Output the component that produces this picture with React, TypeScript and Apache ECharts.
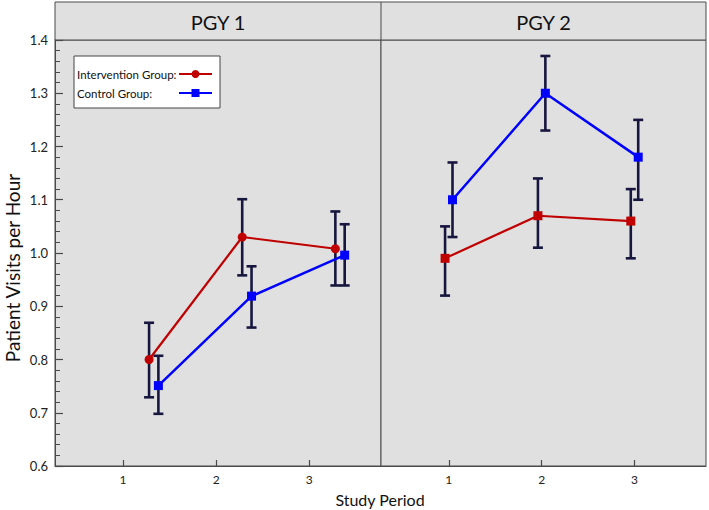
import React, { useEffect, useRef } from "react";
import * as echarts from "echarts";

// ---- Data ----
const periods = [1, 2, 3];
const xTicks = [1, 2, 3];
const panels = ["PGY 1", "PGY 2"];
const groupNames = ["Intervention Group:", "Control Group:"];
const xTitle = "Study Period";
const yTitle = "Patient Visits per Hour";

// dodge offsets of each group along the period axis, per panel
const pgy1Offsets = [0.28, 0.38];
const pgy2Offsets = [-0.04, 0.04];

const pgy1Intervention = [0.8, 1.03, 1.008];
const pgy1InterventionLow = [0.729, 0.958, 0.939];
const pgy1InterventionHigh = [0.869, 1.101, 1.078];

const pgy1Control = [0.751, 0.919, 0.996];
const pgy1ControlLow = [0.698, 0.86, 0.939];
const pgy1ControlHigh = [0.807, 0.975, 1.054];

const pgy2Intervention = [0.99, 1.07, 1.06];
const pgy2InterventionLow = [0.92, 1.01, 0.99];
const pgy2InterventionHigh = [1.05, 1.14, 1.12];

const pgy2Control = [1.1, 1.3, 1.18];
const pgy2ControlLow = [1.03, 1.23, 1.1];
const pgy2ControlHigh = [1.17, 1.37, 1.25];

const RED = "#c00000";
const BLUE = "#0000ff";
const ERR = "#16163f";
const AXIS = "#4a4a4a";
const BG = "#e0e0e0";
const FONT = "Lato, 'Open Sans', sans-serif";

function pts(vals: number[], off: number) {
  return vals.map((v, i) => [periods[i] + off, v]);
}
function errs(lo: number[], hi: number[], off: number) {
  return lo.map((l, i) => [periods[i] + off, l, hi[i]]);
}

const errRender = (params: any, api: any) => {
  const x = api.value(0);
  const lo = api.value(1);
  const hi = api.value(2);
  const t = api.coord([x, hi]);
  const b = api.coord([x, lo]);
  const cap = 5;
  const st = { stroke: ERR, lineWidth: 2.6 };
  return {
    type: "group",
    children: [
      { type: "line", shape: { x1: t[0], y1: t[1], x2: b[0], y2: b[1] }, style: st },
      { type: "line", shape: { x1: t[0] - cap, y1: t[1], x2: t[0] + cap, y2: t[1] }, style: st },
      { type: "line", shape: { x1: b[0] - cap, y1: b[1], x2: b[0] + cap, y2: b[1] }, style: st },
    ],
  };
};

export default function App() {
  const ref = useRef<HTMLDivElement>(null);
  useEffect(() => {
    if (!ref.current) return;
    const chart = echarts.init(ref.current, undefined, { renderer: "svg" });

    const xAxisBase = (gi: number) => ({
      type: "value",
      gridIndex: gi,
      min: 0.27,
      max: 3.77,
      axisLine: { show: true, lineStyle: { color: AXIS, width: 1 } },
      axisTick: {
        show: true,
        inside: true,
        length: 6,
        customValues: xTicks,
        lineStyle: { color: AXIS, width: 1.2 },
      },
      axisLabel: {
        customValues: xTicks,
        fontSize: 12,
        color: "#222",
        margin: 7,
        fontFamily: FONT,
      },
      splitLine: { show: false },
    });

    const yAxisBase = (gi: number, show: boolean) => ({
      type: "value",
      gridIndex: gi,
      min: 0.6,
      max: 1.4,
      interval: 0.1,
      show,
      axisLine: { show: true, lineStyle: { color: AXIS, width: 1 } },
      axisTick: { show: true, inside: true, length: 8, lineStyle: { color: AXIS, width: 1.2 } },
      minorTick: { show: true, splitNumber: 5, length: 5, lineStyle: { color: AXIS, width: 1 } },
      axisLabel: {
        fontSize: 13,
        color: "#222",
        margin: 7,
        fontFamily: FONT,
        formatter: (v: number) => v.toFixed(1),
      },
      splitLine: { show: false },
    });

    const lineSeries = (name: string, data: number[][], color: string, symbol: string, gi: number, lw: number) => ({
      type: "line",
      name,
      xAxisIndex: gi,
      yAxisIndex: gi,
      data,
      symbol,
      symbolSize: 9,
      showSymbol: true,
      lineStyle: { color, width: lw },
      itemStyle: { color },
      z: 5,
    });

    const errSeries = (data: number[][], gi: number) => ({
      type: "custom",
      xAxisIndex: gi,
      yAxisIndex: gi,
      data,
      encode: { x: 0, y: [1, 2] },
      renderItem: errRender,
      z: 3,
      silent: true,
    });

    const option: any = {
      animation: false,
      textStyle: { fontFamily: FONT },
      grid: [
        { left: 55, top: 40, width: 326, height: 426, show: true, backgroundColor: BG, borderColor: AXIS, borderWidth: 1 },
        { left: 381, top: 40, width: 325, height: 426, show: true, backgroundColor: BG, borderColor: AXIS, borderWidth: 1 },
      ],
      xAxis: [xAxisBase(0), xAxisBase(1)],
      yAxis: [yAxisBase(0, true), yAxisBase(1, false)],
      legend: {
        orient: "vertical",
        left: 74,
        top: 56,
        align: "right",
        data: groupNames,
        backgroundColor: "#ffffff",
        borderColor: "#444",
        borderWidth: 1,
        borderRadius: 0,
        padding: [12, 7, 9, 3],
        itemGap: 7,
        itemWidth: 33,
        itemHeight: 10,
        selectedMode: false,
        formatter: (name: string) => "{t|" + name + "}",
        textStyle: {
          fontSize: 11.5,
          color: "#111",
          fontFamily: FONT,
          rich: {
            t: { width: 97, align: "left", fontSize: 11.5, color: "#111", fontFamily: FONT },
          },
        },
      },
      graphic: [
        {
          type: "rect",
          shape: { x: 55, y: 2, width: 651, height: 38 },
          style: { fill: BG, stroke: AXIS, lineWidth: 1 },
        },
        {
          type: "line",
          shape: { x1: 381, y1: 2, x2: 381, y2: 40 },
          style: { stroke: AXIS, lineWidth: 1 },
        },
        {
          type: "text",
          x: 218,
          y: 22,
          style: { text: panels[0], fontSize: 20, fill: "#111", align: "center", verticalAlign: "middle", fontFamily: FONT },
        },
        {
          type: "text",
          x: 543.5,
          y: 22,
          style: { text: panels[1], fontSize: 20, fill: "#111", align: "center", verticalAlign: "middle", fontFamily: FONT },
        },
        {
          type: "text",
          x: 380,
          y: 499,
          style: { text: xTitle, fontSize: 16, fill: "#111", align: "center", verticalAlign: "middle", fontFamily: FONT },
        },
        {
          type: "text",
          x: 12,
          y: 268,
          rotation: Math.PI / 2,
          style: { text: yTitle, fontSize: 19, fill: "#111", align: "center", verticalAlign: "middle", fontFamily: FONT },
        },
      ],
      series: [
        lineSeries(groupNames[0], pts(pgy1Intervention, pgy1Offsets[0]), RED, "circle", 0, 2.2),
        lineSeries(groupNames[1], pts(pgy1Control, pgy1Offsets[1]), BLUE, "rect", 0, 2.5),
        lineSeries(groupNames[0], pts(pgy2Intervention, pgy2Offsets[0]), RED, "rect", 1, 2.2),
        lineSeries(groupNames[1], pts(pgy2Control, pgy2Offsets[1]), BLUE, "rect", 1, 2.5),
        errSeries(errs(pgy1InterventionLow, pgy1InterventionHigh, pgy1Offsets[0]), 0),
        errSeries(errs(pgy1ControlLow, pgy1ControlHigh, pgy1Offsets[1]), 0),
        errSeries(errs(pgy2InterventionLow, pgy2InterventionHigh, pgy2Offsets[0]), 1),
        errSeries(errs(pgy2ControlLow, pgy2ControlHigh, pgy2Offsets[1]), 1),
      ],
    };
    chart.setOption(option);
    return () => chart.dispose();
  }, []);
  return (
    <div
      ref={ref}
      style={{ position: "absolute", left: 0, top: 0, width: 709, height: 510 }}
    />
  );
}
